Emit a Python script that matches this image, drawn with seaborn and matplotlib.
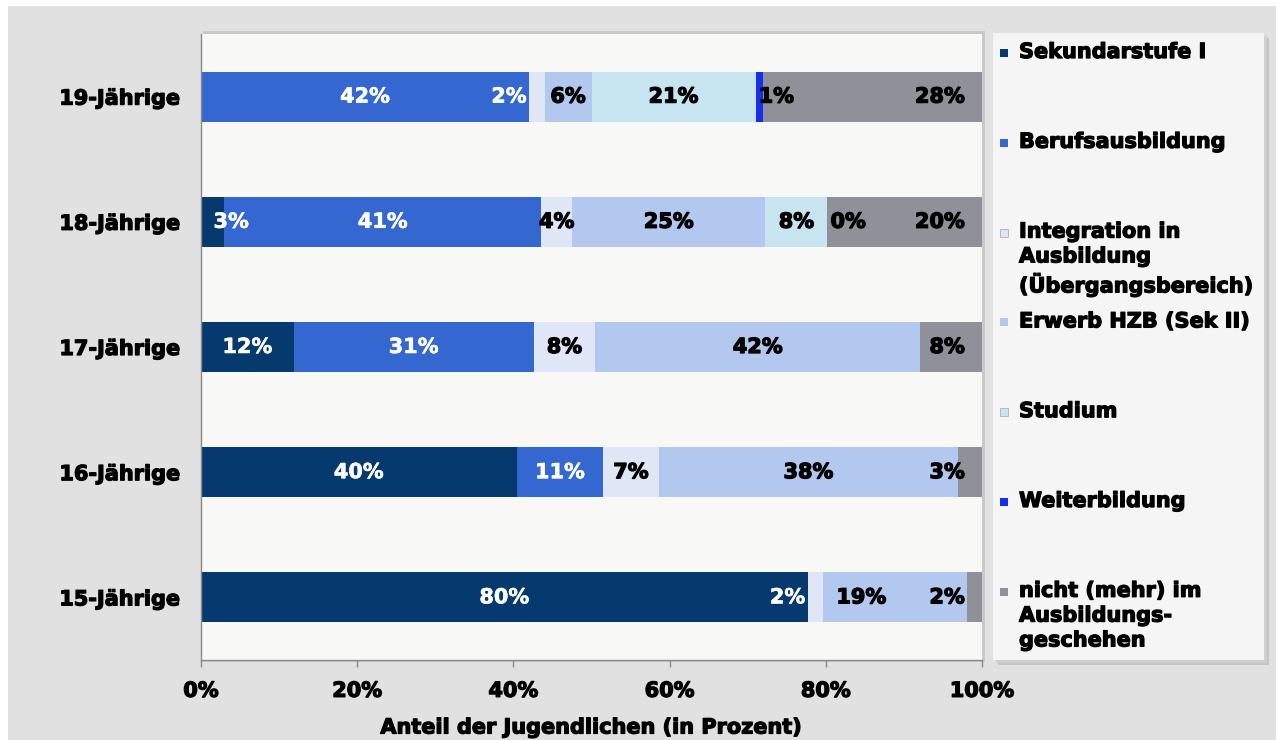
import numpy as np
import pandas as pd
import matplotlib
matplotlib.use("Agg")
import matplotlib.pyplot as plt
import matplotlib.patheffects as pe
from matplotlib.patches import Rectangle
import seaborn as sns

# ---- data -------------------------------------------------------------
ages = ["19-Jährige", "18-Jährige", "17-Jährige", "16-Jährige", "15-Jährige"]
series = [
    "Sekundarstufe I",
    "Berufsausbildung",
    "Integration in\nAusbildung\n(Übergangsbereich)",
    "Erwerb HZB (Sek II)",
    "Studium",
    "Weiterbildung",
    "nicht (mehr) im\nAusbildungs-\ngeschehen",
]
nan = np.nan
sekundarstufe = [nan, 3, 12, 40, 80]
berufsausbildung = [42, 41, 31, 11, nan]
integration = [2, 4, 8, 7, 2]
erwerb_hzb = [6, 25, 42, 38, 19]
studium = [21, 8, nan, nan, nan]
weiterbildung = [1, 0, nan, nan, nan]
nicht_mehr = [28, 20, 8, 3, 2]
x_ticks = [0, 20, 40, 60, 80, 100]
x_label = "Anteil der Jugendlichen (in Prozent)"

colors = ["#063a6f", "#3467cf", "#dfe7f7", "#b2c8ef", "#c6e5f1", "#1530e8", "#8f9098"]

values = np.array([sekundarstufe, berufsausbildung, integration, erwerb_hzb,
                   studium, weiterbildung, nicht_mehr], dtype=float)

# 100 % stacked: each row is scaled by its own total
row_tot = np.nansum(values, axis=0)
shares = np.nan_to_num(values) / row_tot * 100
ends = np.cumsum(shares, axis=0)
starts = ends - shares

df = pd.DataFrame({"age": ages})
for j in range(len(series)):
    df[f"end{j}"] = ends[j]

# ---- figure -----------------------------------------------------------
W, H = 1276, 740
fig = plt.figure(figsize=(W / 100, H / 100), dpi=100)
fig.patch.set_facecolor("white")
plt.rcParams["font.family"] = ["DejaVu Sans"]

FS = 15
heavy = [pe.withStroke(linewidth=0.9, foreground="black")]
heavy_w = [pe.withStroke(linewidth=0.4, foreground="white")]


def px(x, y, w, h):
    return (x / W, 1 - (y + h) / H, w / W, h / H)


def add_rect(x, y, w, h, **kw):
    r = px(x, y, w, h)
    fig.patches.append(Rectangle(r[:2], r[2], r[3], transform=fig.transFigure, **kw))


# grey chart background
add_rect(8, 6, W - 8, H - 6, facecolor="#e1e1e1", edgecolor="none", zorder=-10)

# legend panel with a soft shadow
lx, ly, lw, lh = 993, 33, 271, 627
add_rect(lx + 5, ly + 5, lw, lh, facecolor="#c4c4c4", edgecolor="none", zorder=-5)
add_rect(lx + 3, ly + 3, lw, lh, facecolor="#d0d0d0", edgecolor="none", zorder=-5)
add_rect(lx, ly, lw, lh, facecolor="#f5f5f5", edgecolor="none", zorder=-4)

# plot-area shadow
add_rect(203, 31, 782, 631, facecolor="#c9c9c9", edgecolor="none", zorder=-5)

ax = fig.add_axes(px(201, 34, 781, 626))
ax.set_facecolor("#f8f8f6")

# draw from the full stack down so shorter stacks cover longer ones
for j in reversed(range(len(series))):
    sns.barplot(data=df, x=f"end{j}", y="age", order=ages, orient="h",
                color=colors[j], saturation=1, width=0.4, errorbar=None,
                linewidth=0, ax=ax)

ax.set_xlim(0, 100)
ax.set_ylim(len(ages) - 0.5, -0.5)
ax.set_xticks(x_ticks)
ax.set_xticklabels([f"{t}%" for t in x_ticks], fontsize=FS, fontweight="bold")
ax.set_yticks(range(len(ages)))
ax.set_yticklabels(ages, fontsize=FS, fontweight="bold")
for t in ax.get_xticklabels() + ax.get_yticklabels():
    t.set_path_effects(heavy)
ax.tick_params(axis="y", length=0, pad=15)
ax.tick_params(axis="x", length=5, pad=10, color="#8a8a8a", width=1)
ax.set_xlabel(x_label, fontsize=FS, fontweight="bold", labelpad=12,
              path_effects=heavy)
ax.set_ylabel("")
for s in ["top", "right"]:
    ax.spines[s].set_visible(False)
for s in ["left", "bottom"]:
    ax.spines[s].set_color("#8a8a8a")
    ax.spines[s].set_linewidth(1)

# ---- value labels -----------------------------------------------------
for i in range(len(ages)):
    for j in range(len(series)):
        v = values[j, i]
        if np.isnan(v):
            continue
        s0, s1 = starts[j, i], ends[j, i]
        w = s1 - s0
        color = "white" if j in (0, 1) else "black"
        ha, xpos = "center", (s0 + s1) / 2
        if j == 0 and w < 5:
            ha, xpos = "left", s0 + 1.6
        elif j == 2 and w < 3:
            ha, xpos, color = "right", s0 - 0.3, "white"
        elif j == 3 and w > 15 and 100 - s1 < 3:
            xpos = s1 - 13.5  # keep clear of the narrow last label
        elif j == 5:
            ha, xpos = "left", s0 + 0.4
        elif j == 6:
            ha, xpos = "right", 97.8
        ax.text(xpos, i, f"{v:.0f}%", ha=ha, va="center", fontsize=FS,
                fontweight="bold", color=color,
                path_effects=heavy if color == "black" else heavy_w)

# ---- legend -----------------------------------------------------------
for j, name in enumerate(series):
    yc = 53 + 89.8 * j
    add_rect(1000, yc - 4, 8, 8, facecolor=colors[j],
             edgecolor="#b0b0b0" if j in (2, 4) else "none", linewidth=0.6)
    fig.text(1019 / W, 1 - (yc - 11) / H, name, ha="left", va="top",
             fontsize=FS, fontweight="bold", linespacing=1.3,
             path_effects=heavy)

fig.savefig("out.png", dpi=100)
